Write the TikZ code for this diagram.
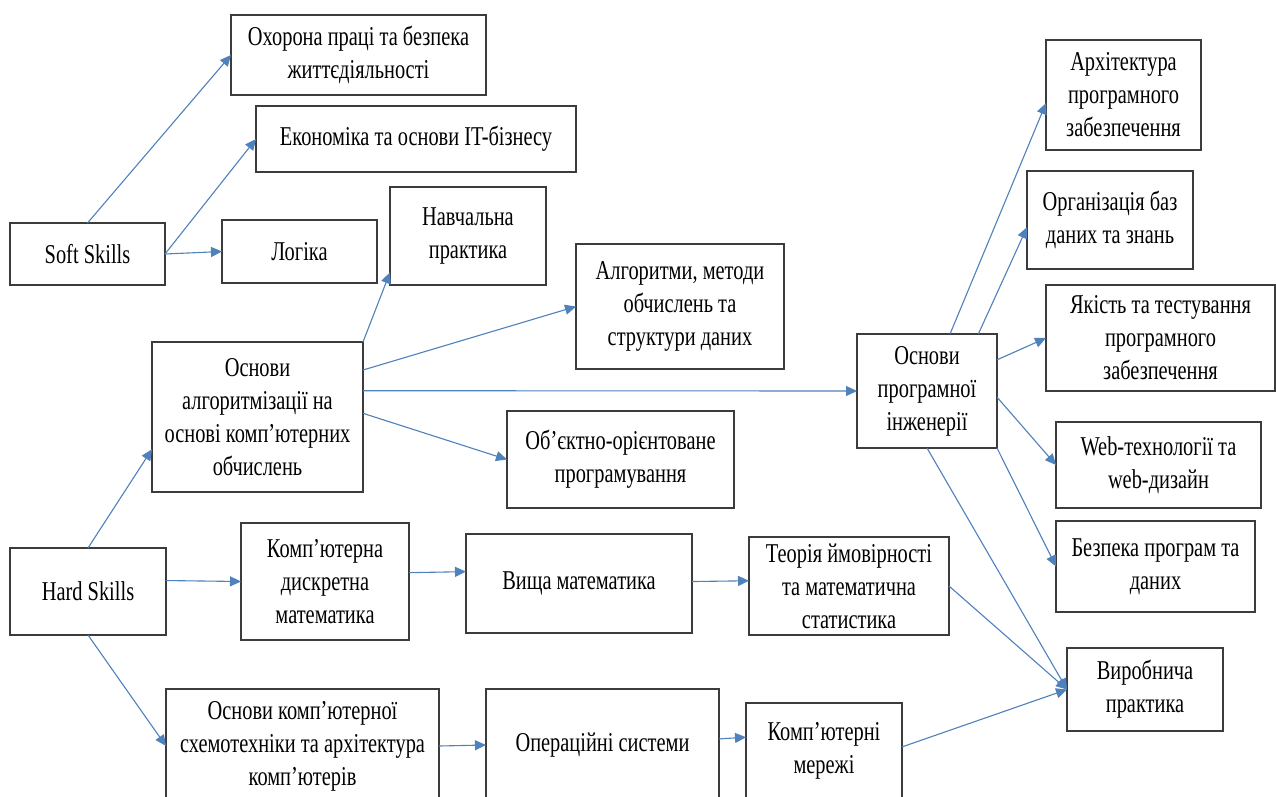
\documentclass[tikz,border=0pt]{standalone}
\usepackage{fontspec}
\setmainfont{Liberation Serif}[FakeStretch=0.75]
\usetikzlibrary{arrows.meta}
\definecolor{lnblue}{RGB}{79,129,189}
\definecolor{bxgray}{RGB}{60,60,60}
\tikzset{bx/.style={draw=bxgray,line width=1.5pt,inner sep=0pt,outer sep=0pt,align=center,font=\fontsize{27.2}{33}\selectfont}}
\tikzset{ar/.style={draw=lnblue,line width=1.1pt,-{Triangle[length=11pt,width=10pt]}}}

\begin{document}
\begin{tikzpicture}[x=1pt,y=-1pt]
          \clip (0,0) rectangle (1276,796);
          \fill[white] (0,0) rectangle (1276,796);
          % soft skills
          \node[bx,minimum width=155pt,minimum height=62pt] (soft) at (87.5,254) {Soft Skills};
          \node[bx,minimum width=255pt,minimum height=80pt] (ohorona) at (358.5,55) {Охорона праці та безпека\\життєдіяльності};
          \node[bx,minimum width=320pt,minimum height=66pt] (ekonom) at (416,139) {Економіка та основи IT-бізнесу};
          \node[bx,minimum width=155pt,minimum height=63pt] (logika) at (299.5,251.5) {Логіка};
          % hard skills
          \node[bx,minimum width=156pt,minimum height=87pt] (hard) at (88,591.5) {Hard Skills};
          \node[bx,minimum width=211pt,minimum height=150pt] (osnalg) at (257.5,417) {Основи\\алгоритмізації на\\основі комп’ютерних\\обчислень};
          \node[bx,minimum width=156pt,minimum height=98pt] (navch) at (468,236) {Навчальна\\практика};
          \node[bx,minimum width=208pt,minimum height=125pt] (alhor) at (680,306.5) {Алгоритми, методи\\обчислень  та\\структури даних};
          \node[bx,minimum width=227pt,minimum height=97pt] (oop) at (620.5,459.5) {Об’єктно-орієнтоване\\програмування};
          \node[bx,minimum width=140pt,minimum height=114pt] (opi) at (927,391) {Основи\\програмної\\інженерії};
          \node[bx,minimum width=168pt,minimum height=117pt] (kdm) at (325,581.5) {Комп’ютерна\\дискретна\\математика};
          \node[bx,minimum width=226pt,minimum height=99pt] (vyshcha) at (579,583.5) {Вища математика};
          \node[bx,minimum width=200pt,minimum height=98pt] (teoriya) at (849,586) {Теорія ймовірності\\та математична\\статистика};
          \node[bx,minimum width=273pt,minimum height=114pt] (oks) at (302.5,746) {Основи комп’ютерної\\схемотехніки та архітектура\\комп’ютерів};
          \node[bx,minimum width=233pt,minimum height=112pt] (os) at (602.5,745) {Операційні системи};
          \node[bx,minimum width=156pt,minimum height=96pt] (km) at (824,751) {Комп’ютерні\\мережі};
          % right column
          \node[bx,minimum width=155pt,minimum height=110pt] (arkh) at (1123.5,95) {Архітектура\\програмного\\забезпечення};
          \node[bx,minimum width=166pt,minimum height=98pt] (orgbd) at (1110,220) {Організація баз\\даних та знань};
          \node[bx,minimum width=229pt,minimum height=106pt] (yakist) at (1160.5,338) {Якість та тестування\\програмного\\забезпечення};
          \node[bx,minimum width=205pt,minimum height=86pt] (web) at (1158.5,465) {Web-технології та\\web-дизайн};
          \node[bx,minimum width=199pt,minimum height=91pt] (bezpeka) at (1155.5,566.5) {Безпека програм та\\даних};
          \node[bx,minimum width=156pt,minimum height=83pt] (vyrob) at (1145,689.5) {Виробнича\\практика};
          % arrows
          \draw[ar] (soft.north) -- (ohorona.west);
          \draw[ar] (soft.east) -- (ekonom.west);
          \draw[ar] (soft.east) -- (logika.west);
          \draw[ar] (hard.north) -- (osnalg.197);
          \draw[ar] (hard.8) -- (kdm.west);
          \draw[ar] (hard.south) -- (oks.west);
          \draw[ar] (osnalg.north east) -- (navch.205);
          \draw[ar] (osnalg.24) -- (alhor.west);
          \draw[ar] (osnalg.14) -- (opi.west);
          \draw[ar] (osnalg.2) -- (oop.west);
          \draw[ar] (kdm.6) -- (vyshcha.174);
          \draw[ar] (vyshcha.1) -- (teoriya.177);
          \draw[ar] (oks.east) -- (os.west);
          \draw[ar] (os.3) -- (km.170);
          \draw[ar] (opi.68) -- (arkh.186);
          \draw[ar] (opi.48) -- (orgbd.185);
          \draw[ar] (opi.24) -- (yakist.west);
          \draw[ar] (opi.-5) -- (web.west);
          \draw[ar] (opi.south east) -- (bezpeka.west);
          \draw[ar] (opi.south) -- (vyrob.west);
          \draw[ar] (teoriya.east) -- (vyrob.west);
          \draw[ar] (km.3) -- (vyrob.west);
\end{tikzpicture}
\end{document}
